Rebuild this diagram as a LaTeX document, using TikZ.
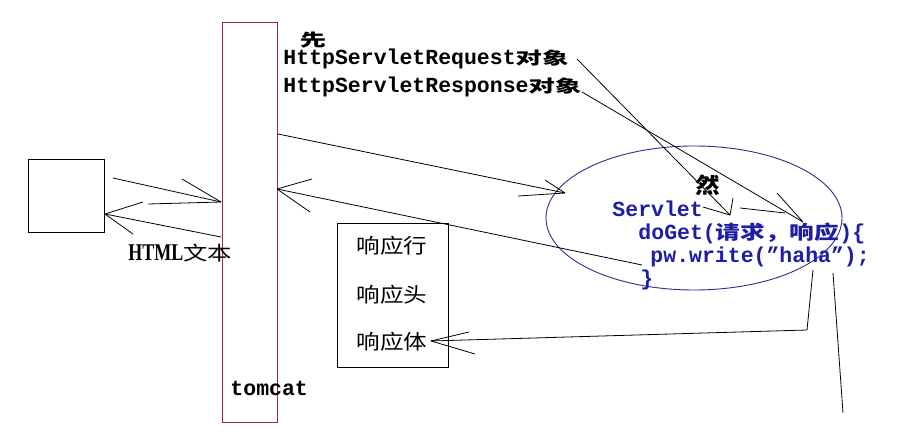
\documentclass[tikz,border=0pt]{standalone}
\usepackage{fontspec}
\setmainfont{Liberation Serif}
\newfontfamily\monof{Liberation Mono}
\newfontfamily\cjkAf[FakeStretch=1.55]{Noto Sans CJK SC}
\newfontfamily\cjkBf[FakeStretch=1.3]{Noto Sans CJK SC}
\newfontfamily\cjkCf[FakeStretch=1.15]{Noto Sans CJK SC}
\newfontfamily\cjkDf[FakeStretch=1.25]{Noto Sans CJK SC}
\newfontfamily\htmlf[FakeStretch=0.75]{Liberation Serif Bold}
\newcommand\cjkwide[1]{{\cjkAf\bfseries\fontsize{17}{17}\selectfont #1}}
\newcommand\cjkmid[1]{{\cjkBf\fontsize{19}{19}\selectfont #1}}
\newcommand\cjkbox[1]{{\cjkCf\fontsize{20.5}{20.5}\selectfont #1}}
\usetikzlibrary{shapes.geometric}
\definecolor{tomred}{RGB}{160,40,60}
\definecolor{codeblue}{RGB}{30,30,165}
\definecolor{ellblue}{RGB}{45,45,150}
\begin{document}
\begin{tikzpicture}[x=1pt,y=-1pt,line width=0.9pt,
  plainbox/.style={draw,inner sep=0pt},
  txt/.style={inner sep=0pt,anchor=west},
  monotxt/.style={font=\monof\bfseries\fontsize{21.5}{22}\selectfont},
  codetxt/.style={txt,monotxt,text=codeblue},
  link/.style={draw,line width=0.8pt}]
\useasboundingbox (0,0) rectangle (901,435);
\fill[white] (0,0) rectangle (901,435);

% shapes
\node[plainbox,minimum width=76pt,minimum height=73pt] (client) at (66,195.5) {};
\node[draw=tomred,inner sep=0pt,minimum width=55pt,minimum height=400pt] (tomcat) at (249.5,222) {};
\node[plainbox,minimum width=111pt,minimum height=144pt] (resp) at (392.5,295) {};
\node[draw=ellblue,ellipse,inner sep=0pt,minimum width=296pt,minimum height=144pt,line width=0.9pt] (servlet) at (694,218) {};

% texts
\node[txt,monotxt] (tomcatlbl) at (230,388) {tomcat};
\node[txt] (htmllbl) at (128,253) {{\htmlf\fontsize{24}{24}\selectfont HTML}{\cjkDf\fontsize{19.5}{19.5}\selectfont 文本}};
\node[inner sep=0pt] (first) at (313,40) {\cjkwide{先}};
\node[txt,monotxt] (reqobj) at (283,59) {HttpServletRequest\cjkwide{对象}};
\node[txt,monotxt] (respobj) at (283,87) {HttpServletResponse\cjkwide{对象}};
\node[inner sep=0pt] (then) at (708,185) {{\cjkCf\bfseries\fontsize{21.5}{21.5}\selectfont 然}};
\node[codetxt] (c1) at (612,209) {Servlet};
\node[codetxt] (c2) at (638,233) {doGet(\cjkmid{请求，响应})\{};
\node[codetxt] (c3) at (650,257) {pw.write(”haha”);};
\node[codetxt] (c4) at (640,280) {\}};
\node[inner sep=0pt] (rl1) at (392,246) {\cjkbox{响应行}};
\node[inner sep=0pt] (rl2) at (392,295) {\cjkbox{响应头}};
\node[inner sep=0pt] (rl3) at (392,342) {\cjkbox{响应体}};

% connector points
\coordinate (a1s) at (113,178); \coordinate (a1t) at (221,202);
\coordinate (a1b1) at (182,179); \coordinate (a1b2) at (148,204);
\coordinate (a2s) at (221,237); \coordinate (a2t) at (105,214);
\coordinate (a2b1) at (143,202); \coordinate (a2b2) at (133,234);
\coordinate (a3s) at (278,134); \coordinate (a3t) at (565,193);
\coordinate (a3b1) at (545,180); \coordinate (a3b2) at (518,196);
\coordinate (a4s) at (642,265); \coordinate (a4t) at (277,189);
\coordinate (a4b1) at (312,179); \coordinate (a4b2) at (310,212);
\coordinate (a5s) at (813,270); \coordinate (a5k) at (807,330); \coordinate (a5t) at (431,341);
\coordinate (a5b1) at (469,332); \coordinate (a5b2) at (475,354);
\coordinate (l6s) at (833,273); \coordinate (l6e) at (843,413);
\coordinate (las) at (577,59); \coordinate (lat) at (730,215);
\coordinate (lab1) at (703,207); \coordinate (lab2) at (733,198);
\coordinate (lbs) at (582,92); \coordinate (lbt) at (803,222);
\coordinate (lbb1) at (740,208); \coordinate (lbb1e) at (785,213); \coordinate (lbb2) at (777,193);

% connectors
\draw[link] (a1s) -- (a1t); \draw[link] (a1b1) -- (a1t); \draw[link] (a1b2) -- (a1t);
\draw[link] (a2s) -- (a2t); \draw[link] (a2b1) -- (a2t); \draw[link] (a2b2) -- (a2t);
\draw[link] (a3s) -- (a3t); \draw[link] (a3b1) -- (a3t); \draw[link] (a3b2) -- (a3t);
\draw[link] (a4s) -- (a4t); \draw[link] (a4b1) -- (a4t); \draw[link] (a4b2) -- (a4t);
\draw[link] (a5s) -- (a5k) -- (a5t); \draw[link] (a5b1) -- (a5t); \draw[link] (a5b2) -- (a5t);
\draw[link] (l6s) -- (l6e);
\draw[link] (las) -- (lat); \draw[link] (lab1) -- (lat); \draw[link] (lab2) -- (lat);
\draw[link] (lbs) -- (lbt); \draw[link] (lbb1) -- (lbb1e); \draw[link] (lbb2) -- (lbt);
\end{tikzpicture}
\end{document}
